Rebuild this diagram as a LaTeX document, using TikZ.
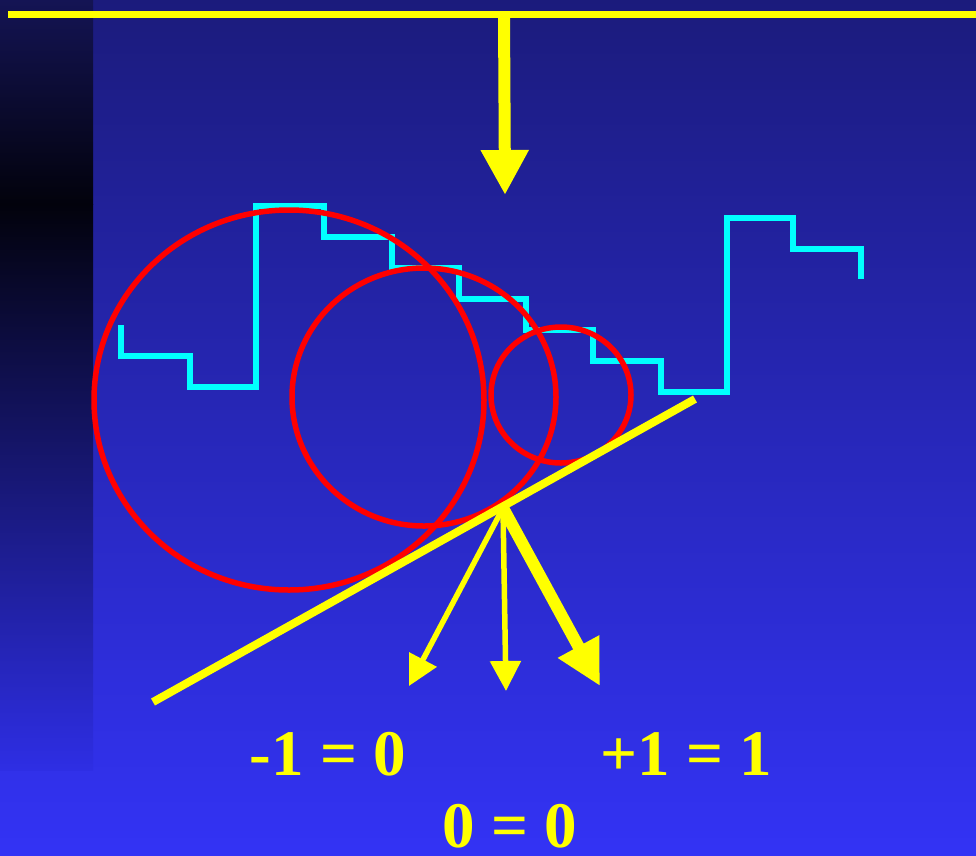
\documentclass[tikz,border=0pt]{standalone}
\usepackage{fontspec}
\setmainfont{Liberation Serif}
\usetikzlibrary{arrows.meta}
\definecolor{slidetop}{RGB}{27,27,124}
\definecolor{slidebottom}{RGB}{51,51,245}
\definecolor{striptop}{RGB}{20,20,84}
\definecolor{stripmid}{RGB}{2,2,12}
\definecolor{stripbottom}{RGB}{46,46,228}
\definecolor{sigyellow}{RGB}{255,255,0}
\definecolor{stepcyan}{RGB}{0,255,255}
\definecolor{ballred}{RGB}{255,0,0}
\tikzset{
      stepline/.style={
        draw=stepcyan,
        line width=6.5pt,
        line join=miter
      },
      ballline/.style={
        draw=ballred,
        line width=5.5pt
      },
      yline/.style={
        draw=sigyellow,
        line width=7pt
      },
      eqlabel/.style={
        text=sigyellow,
        font=\bfseries\fontsize{65}{70}\selectfont,
        anchor=base,
        inner sep=0pt
      }
    }

\begin{document}
\begin{tikzpicture}[x=1pt,y=-1pt]
    \useasboundingbox (0,0) rectangle (976,855);
    \shade[top color=slidetop, bottom color=slidebottom] (0,0) rectangle (976,855);
    \shade[top color=striptop, bottom color=stripmid] (0,0) rectangle (93,204);
    \shade[top color=stripmid, bottom color=stripbottom] (0,204) rectangle (93,770);

    \coordinate (railL) at (8,14);
    \coordinate (railR) at (976,14);
    \coordinate (drop) at (504,14);
    \coordinate (dropTip) at (505,195);
    \draw[yline] (railL) -- (railR);
    \draw[yline, line width=12pt, -{Triangle[length=45pt,width=45pt]}] (drop) -- (dropTip);

    \draw[stepline] (121,325) -- (121,356) -- (190,356) -- (190,387) -- (256,387) -- (256,206)
      -- (324,206) -- (324,237) -- (392,237) -- (392,268) -- (459,268) -- (459,299)
      -- (526,299) -- (526,330) -- (593,330) -- (593,361) -- (661,361) -- (661,392)
      -- (727,392) -- (727,218) -- (793,218) -- (793,249) -- (861,249) -- (861,279);

    \draw[ballline] (289,400) ellipse [x radius=195pt, y radius=190pt];
    \draw[ballline] (424,397) ellipse [x radius=132pt, y radius=129pt];
    \draw[ballline] (561,395) ellipse [x radius=70pt, y radius=68pt];

    \coordinate (slopeL) at (153,702);
    \coordinate (slopeR) at (695,399);
    \draw[yline, line width=8pt] (slopeL) -- (slopeR);

    \coordinate (contact) at (503,508);
    \coordinate (tipNeg) at (409,686);
    \coordinate (tipZero) at (506,691);
    \coordinate (tipPos) at (600,686);
    \draw[yline, line width=5.5pt, -{Triangle[length=30pt,width=30pt]}] (contact) -- (tipNeg);
    \draw[yline, line width=5.5pt, -{Triangle[length=30pt,width=30pt]}] (contact) -- (tipZero);
    \draw[yline, line width=12pt, -{Triangle[length=45pt,width=44pt]}] (contact) -- (tipPos);

    \node[eqlabel] (negeq) at (328,775) {-1 = 0};
    \node[eqlabel] (poseq) at (686,775) {+1 = 1};
    \node[eqlabel] (zeroeq) at (510,847) {0 = 0};
    \end{tikzpicture}
\end{document}
